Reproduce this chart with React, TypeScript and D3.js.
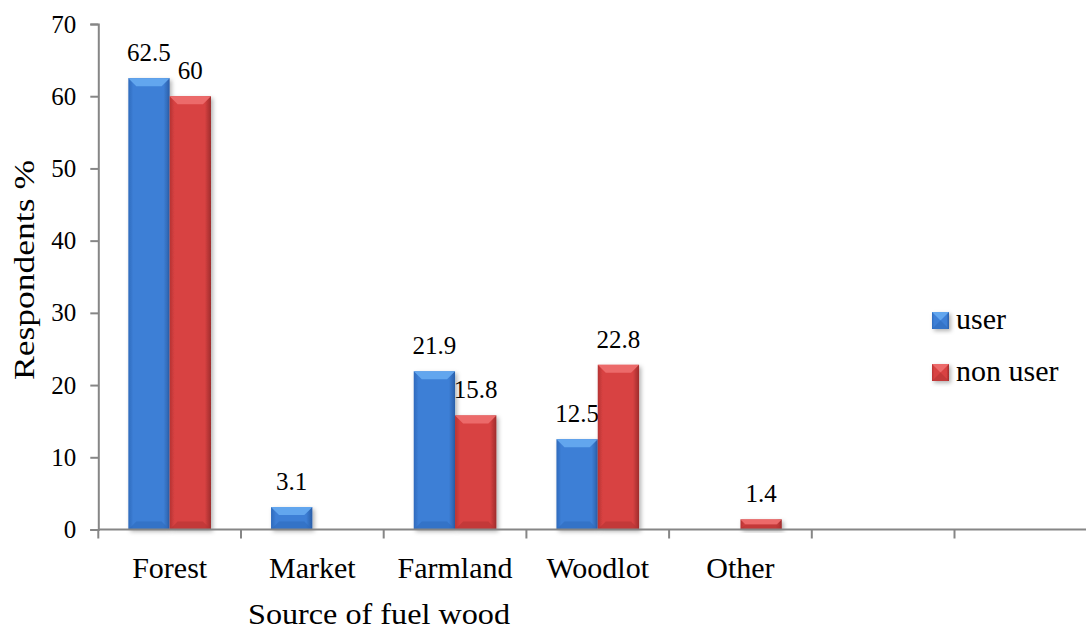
import React, { useEffect, useRef } from 'react';
import * as d3 from 'd3';

const categories = ['Forest', 'Market', 'Farmland', 'Woodlot', 'Other', '', ''];
const userValues = [62.5, 3.1, 21.9, 12.5, 0];
const nonUserValues = [60, 0, 15.8, 22.8, 1.4];
const yTicks = [0, 10, 20, 30, 40, 50, 60, 70];
const seriesNames = ['user', 'non user'];

const palette = {
  user: { main: '#3d7fd6', light: '#62a6ee', side: '#2f6abc', dark: '#2a5ea8' },
  'non user': { main: '#d84242', light: '#ec6a6a', side: '#b53333', dark: '#9e2b2b' },
};

const font = "'Liberation Serif', 'Times New Roman', serif";

function App() {
  const svgRef = useRef(null);

  useEffect(() => {
    document.body.style.margin = '0';
    const svg = d3.select(svgRef.current);
    svg.selectAll('*').remove();

    const width = 1086;
    const height = 633;
    const left = 98.3;
    const step = 142.7;

    const x = d3.scaleBand<number>()
      .domain(categories.map((_, i) => i))
      .range([left, left + step * categories.length])
      .paddingInner(0)
      .paddingOuter(0);

    const xInner = d3.scaleBand<string>()
      .domain(seriesNames)
      .range([0, x.bandwidth()])
      .paddingInner(0)
      .paddingOuter(0.727);

    const y = d3.scaleLinear().domain([0, 70]).range([529.5, 24]);

    const defs = svg.append('defs');
    seriesNames.forEach((s, i) => {
      const c = palette[s];
      const g = defs.append('linearGradient').attr('id', 'grad' + i).attr('x1', 0).attr('x2', 1).attr('y1', 0).attr('y2', 0);
      g.append('stop').attr('offset', '0%').attr('stop-color', c.side);
      g.append('stop').attr('offset', '12%').attr('stop-color', c.main);
      g.append('stop').attr('offset', '85%').attr('stop-color', c.main);
      g.append('stop').attr('offset', '100%').attr('stop-color', c.dark);
    });
    const f = defs.append('filter').attr('id', 'shadow').attr('x', '-20%').attr('y', '-20%').attr('width', '150%').attr('height', '150%');
    f.append('feDropShadow').attr('dx', 2).attr('dy', 2).attr('stdDeviation', 2).attr('flood-color', '#000').attr('flood-opacity', 0.3);

    svg.append('rect').attr('width', width).attr('height', height).attr('fill', '#fff');

    // bevelled bar
    const drawBar = (g, bx, by, bw, bh, s, i) => {
      const c = palette[s];
      const b = Math.min(8, bh / 2);
      const bar = g.append('g');
      bar.append('rect').attr('x', bx).attr('y', by).attr('width', bw).attr('height', bh)
        .attr('fill', `url(#grad${i})`).attr('filter', 'url(#shadow)');
      bar.append('polygon')
        .attr('points', [[bx, by], [bx + bw, by], [bx + bw - b, by + b], [bx + b, by + b]].map(p => p.join(',')).join(' '))
        .attr('fill', c.light);
      bar.append('polygon')
        .attr('points', [[bx, by + bh], [bx + bw, by + bh], [bx + bw - b, by + bh - b], [bx + b, by + bh - b]].map(p => p.join(',')).join(' '))
        .attr('fill', c.side).attr('opacity', 0.6);
    };

    const series = [userValues, nonUserValues];
    series.forEach((vals, si) => {
      const s = seriesNames[si];
      const g = svg.append('g');
      vals.forEach((v, ci) => {
        if (!v) return;
        const bx = x(ci) + xInner(s);
        const by = y(v);
        drawBar(g, bx, by, xInner.bandwidth(), y(0) - by, s, si);
        svg.append('text')
          .attr('x', bx + xInner.bandwidth() / 2)
          .attr('y', by - 17)
          .attr('text-anchor', 'middle')
          .attr('font-family', font)
          .attr('font-size', 25)
          .text(String(v));
      });
    });

    // y axis
    const yAxis = svg.append('g').attr('transform', `translate(${left},0)`)
      .call(d3.axisLeft(y).tickValues(yTicks).tickSize(8).tickPadding(14).tickFormat(d3.format('d')));
    yAxis.attr('font-family', font).attr('font-size', 25);
    yAxis.selectAll('line, path').attr('stroke', '#868686').attr('stroke-width', 2);
    yAxis.selectAll('text').attr('fill', '#000');

    // x axis
    const xAxis = svg.append('g').attr('transform', `translate(0,${y(0)})`);
    xAxis.append('line').attr('x1', left).attr('x2', width).attr('stroke', '#868686').attr('stroke-width', 2);
    d3.range(categories.length + 1).forEach(i => {
      const tx = left + step * i;
      xAxis.append('line').attr('x1', tx).attr('x2', tx).attr('y1', 0).attr('y2', 9)
        .attr('stroke', '#868686').attr('stroke-width', 2);
    });
    categories.forEach((c, i) => {
      if (!c) return;
      svg.append('text')
        .attr('x', x(i) + x.bandwidth() / 2)
        .attr('y', 578)
        .attr('text-anchor', 'middle')
        .attr('font-family', font)
        .attr('font-size', 30)
        .text(c);
    });

    // axis titles
    svg.append('text')
      .attr('x', 379).attr('y', 624)
      .attr('text-anchor', 'middle')
      .attr('font-family', font).attr('font-size', 30)
      .attr('textLength', 262).attr('lengthAdjust', 'spacingAndGlyphs')
      .text('Source of fuel wood');
    svg.append('text')
      .attr('transform', 'translate(34,270) rotate(-90)')
      .attr('text-anchor', 'middle')
      .attr('font-family', font).attr('font-size', 30)
      .attr('textLength', 220).attr('lengthAdjust', 'spacingAndGlyphs')
      .text('Respondents %');

    // legend
    const legend = svg.append('g');
    seriesNames.forEach((s, i) => {
      const ly = 312 + i * 52;
      drawBar(legend, 932, ly, 17, 17, s, i);
      legend.append('text')
        .attr('x', 956).attr('y', ly + 17)
        .attr('font-family', font).attr('font-size', 30)
        .text(s);
    });
  }, []);

  return <svg ref={svgRef} width={1086} height={633} style={{ display: 'block' }}></svg>;
}

export default App;
